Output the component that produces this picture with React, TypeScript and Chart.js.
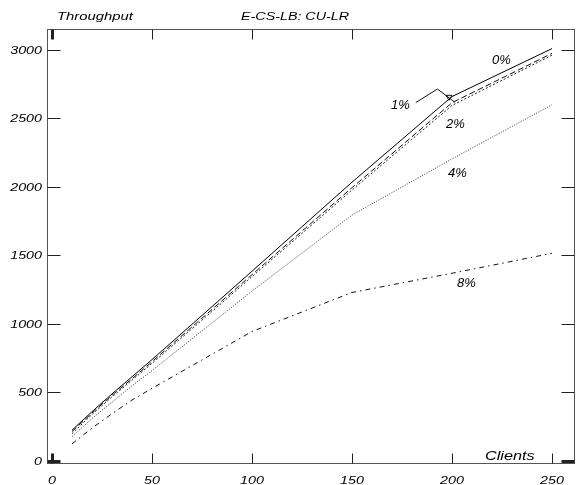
import React, { useEffect, useRef } from "react";
import { Chart, registerables } from "chart.js";

Chart.register(...registerables);

// Number of clients at which throughput was measured
const clients = [10, 20, 30, 40, 50, 100, 150, 200, 250];

// Throughput per loss rate
const loss0 = [225, 360, 490, 615, 740, 1385, 2035, 2660, 3010];
const loss1 = [215, 350, 480, 600, 725, 1360, 1995, 2615, 2975];
const loss2 = [200, 340, 468, 590, 712, 1345, 1978, 2595, 2962];
const loss4 = [178, 310, 430, 548, 660, 1240, 1795, 2205, 2600];
const loss8 = [125, 240, 345, 445, 530, 945, 1230, 1370, 1516];

const seriesNames = ["0%", "1%", "2%", "4%", "8%"];

const xTicks = [0, 50, 100, 150, 200, 250];
const yTicks = [0, 500, 1000, 1500, 2000, 2500, 3000];

const chartTitle = "E-CS-LB: CU-LR";
const yTitle = "Throughput";
const xTitle = "Clients";

// Where each series name sits, in data units (left, baseline)
const nameAnchorX = [220, 169.5, 197, 198, 202.5];
const nameAnchorY = [2898, 2569, 2430, 2073, 1270];

// Leader from the "1%" name to its curve, in data units
const leaderX = [181.9, 192.7, 201.5];
const leaderY = [2616, 2715, 2618];

const FONT = "'Liberation Sans', Arial, sans-serif";

function drawText(
  ctx: CanvasRenderingContext2D,
  text: string,
  x: number,
  y: number,
  size: number,
  sx: number,
  align: "left" | "right" | "center"
) {
  ctx.save();
  ctx.font = `italic ${size}px ${FONT}`;
  ctx.textBaseline = "alphabetic";
  ctx.textAlign = "left";
  const w = ctx.measureText(text).width * sx;
  let left = x;
  if (align === "right") left = x - w;
  else if (align === "center") left = x - w / 2;
  ctx.translate(left, y);
  ctx.scale(sx, 1);
  ctx.fillStyle = "#000";
  ctx.fillText(text, 0, 0);
  ctx.restore();
}

const framePlugin = {
  id: "frame",
  afterDraw(chart: any) {
    const { ctx, chartArea } = chart;
    const xs = chart.scales.x;
    const ys = chart.scales.y;
    const L = chartArea.left + 0.5;
    const R = chartArea.right - 0.5;
    const T = chartArea.top + 0.5;
    const B = chartArea.bottom + 0.5;

    ctx.save();
    // frame
    ctx.strokeStyle = "#555";
    ctx.lineWidth = 1;
    ctx.strokeRect(L, T, R - L, B - T);

    // inward ticks
    ctx.strokeStyle = "#222";
    for (const v of xTicks) {
      const px = Math.round(xs.getPixelForValue(v)) + 0.5;
      ctx.lineWidth = v === 0 ? 3 : 1;
      ctx.beginPath();
      ctx.moveTo(px, T);
      ctx.lineTo(px, T + 10);
      ctx.moveTo(px, B);
      ctx.lineTo(px, B - 10);
      ctx.stroke();
    }
    for (const v of yTicks) {
      const py = Math.round(ys.getPixelForValue(v)) + 0.5;
      ctx.lineWidth = v === 0 ? 3 : 1;
      ctx.beginPath();
      ctx.moveTo(L, py);
      ctx.lineTo(L + 13, py);
      ctx.moveTo(R, py);
      ctx.lineTo(R - 13, py);
      ctx.stroke();
    }
    ctx.restore();

    // tick labels
    for (const v of xTicks) {
      drawText(ctx, String(v), xs.getPixelForValue(v), 484, 11, 1.3, "center");
    }
    for (const v of yTicks) {
      drawText(ctx, String(v), chartArea.left - 5, ys.getPixelForValue(v) + 4, 11, 1.3, "right");
    }

    // titles
    drawText(ctx, yTitle, 57, 20, 11, 1.35, "left");
    drawText(ctx, chartTitle, 241, 20, 11, 1.3, "left");
    drawText(ctx, xTitle, 485, 460, 13, 1.25, "left");

    // series names
    seriesNames.forEach((name, i) => {
      drawText(
        ctx,
        name,
        xs.getPixelForValue(nameAnchorX[i]),
        ys.getPixelForValue(nameAnchorY[i]),
        13,
        1,
        "left"
      );
    });

    // leader for "1%"
    ctx.save();
    ctx.strokeStyle = "#111";
    ctx.lineWidth = 1;
    ctx.beginPath();
    leaderX.forEach((lx, i) => {
      const px = xs.getPixelForValue(lx);
      const py = ys.getPixelForValue(leaderY[i]);
      if (i === 0) ctx.moveTo(px, py);
      else ctx.lineTo(px, py);
    });
    ctx.stroke();
    const ex = xs.getPixelForValue(leaderX[2]);
    const ey = ys.getPixelForValue(leaderY[2]);
    ctx.beginPath();
    ctx.moveTo(ex - 9, ey - 7);
    ctx.lineTo(ex - 3, ey - 7);
    ctx.lineTo(ex - 6, ey - 2);
    ctx.closePath();
    ctx.stroke();
    ctx.restore();
  },
};

export default function App() {
  const ref = useRef<HTMLCanvasElement | null>(null);

  useEffect(() => {
    if (!ref.current) return;
    const mk = (label: string, data: number[], color: string, dash: number[]) => ({
      label,
      data: clients.map((c, i) => ({ x: c, y: data[i] })),
      borderColor: color,
      borderWidth: 1,
      borderDash: dash,
      pointRadius: 0,
      tension: 0,
      fill: false,
    });
    const chart = new Chart(ref.current, {
      type: "line",
      data: {
        datasets: [
          mk(seriesNames[0], loss0, "#000", []),
          mk(seriesNames[1], loss1, "#111", [6, 3]),
          mk(seriesNames[2], loss2, "#222", [2, 2]),
          mk(seriesNames[3], loss4, "#333", [1, 1.5]),
          mk(seriesNames[4], loss8, "#111", [5, 4, 1.5, 4]),
        ],
      },
      options: {
        responsive: false,
        animation: false,
        events: [],
        layout: { padding: { left: 47, right: 1, top: 29, bottom: 22 } },
        plugins: {
          legend: { display: false },
          tooltip: { enabled: false },
          title: { display: false },
        },
        scales: {
          x: { type: "linear", min: -2.5, max: 261.5, display: false },
          y: { type: "linear", min: -14.6, max: 3153, display: false },
        },
      },
      plugins: [framePlugin],
    });
    return () => chart.destroy();
  }, []);

  return (
    <div style={{ position: "fixed", left: 0, top: 0, width: 576, height: 485, background: "#fff" }}>
      <canvas ref={ref} width={576} height={485} style={{ width: 576, height: 485, display: "block" }} />
    </div>
  );
}
